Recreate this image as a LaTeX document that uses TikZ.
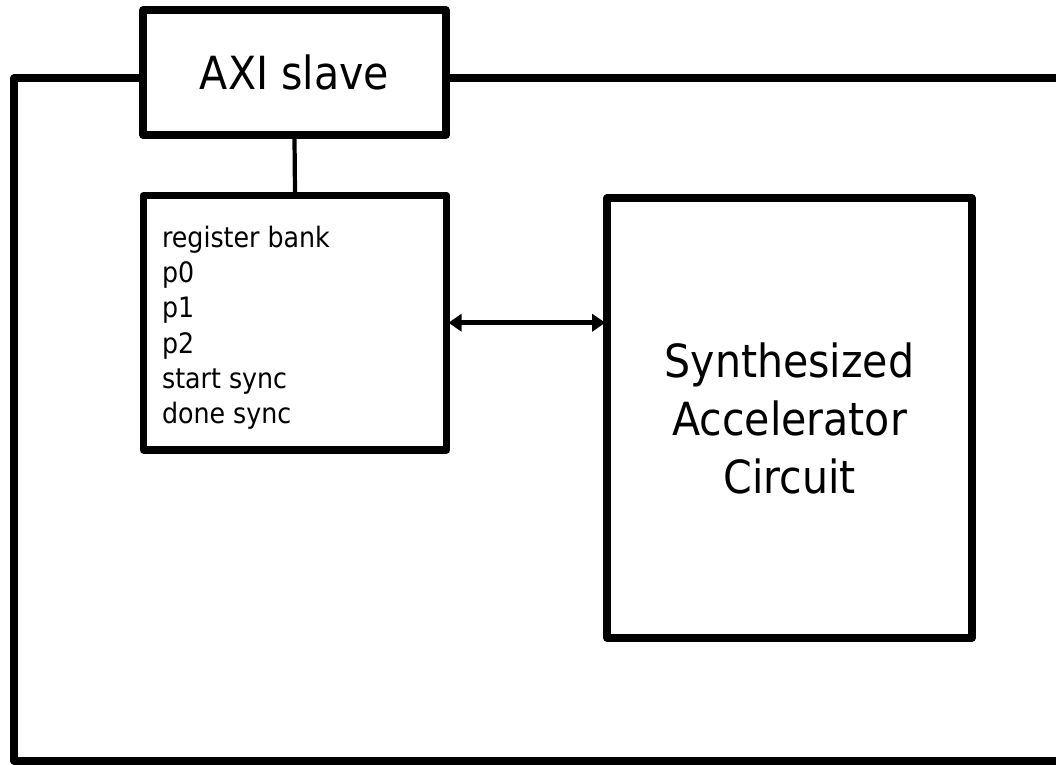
\documentclass[tikz,border=0pt]{standalone}
\usepackage{fontspec}
\setmainfont{DejaVu Sans Condensed}
\usepackage{tikz}
\usetikzlibrary{arrows.meta,positioning}
\tikzset{
  frame/.style={draw=black, line width=4pt, line join=round},
  block/.style={
    draw=black,
    line width=4pt,
    line join=round,
    fill=white,
    align=center,
    inner sep=0pt,
    font=\fontsize{26}{33}\selectfont
  },
  reglist/.style={align=left, inner sep=0pt, font=\fontsize{16}{20}\selectfont},
  link/.style={draw=black, line width=2.4pt},
  biarrow/.style={{Triangle[length=0.26cm,width=0.34cm]}-{Triangle[length=0.26cm,width=0.34cm]},
    draw=black, line width=2.6pt, shorten <=-1pt, shorten >=-1pt}
}
\begin{document}
\begin{tikzpicture}
        \useasboundingbox (0,0) rectangle (21.12,15.3);
        % outer board
        \draw[frame] (0.28,0.08) rectangle (21.7,13.74);
        \node[block, minimum width=6.06cm, minimum height=2.5cm] (axi) at (5.89,13.85) {AXI slave};
        \node[block, minimum width=6.07cm, minimum height=5.09cm] (regs) at (5.9,8.845) {};
        \node[reglist, below right=0.68cm and 0.44cm of regs.north west] (regtext)
          {register bank\\p0\\p1\\p2\\start sync\\done sync};
        \node[block, minimum width=7.3cm, minimum height=8.8cm] (accel) at (15.79,6.94)
          {Synthesized\\Accelerator\\Circuit};
        \draw[link] (axi.south) -- (regs.north);
        \draw[biarrow] (regs.east) -- (regs.east -| accel.west);
      \end{tikzpicture}
\end{document}
